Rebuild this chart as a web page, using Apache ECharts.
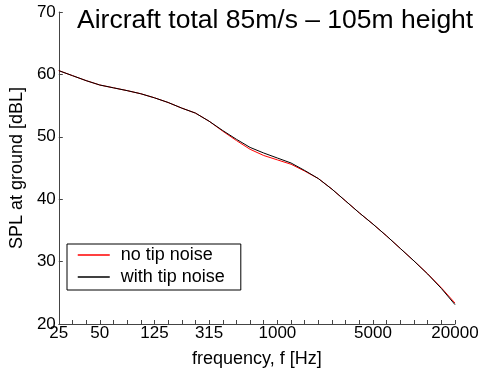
<!DOCTYPE html>
<html>
<head>
<meta charset="utf-8">
<script src="https://cdn.jsdelivr.net/npm/echarts@6/dist/echarts.min.js"></script>
<style>
  html, body { margin: 0; padding: 0; background: #fff; }
  #chart { width: 485px; height: 373px; }
</style>
</head>
<body>
<div id="chart"></div>
<script>
// One-third octave band centre frequencies [Hz]
const bands = ['25','31.5','40','50','63','80','100','125','160','200','250','315','400','500','630',
               '800','1000','1250','1600','2000','2500','3150','4000','5000','6300','8000','10000',
               '12500','16000','20000'];
// Bands that carry a tick label
const labelledBands = ['25','50','125','315','1000','5000','20000'];

// SPL at ground [dBL] per band
const noTipNoise = [60.6, 59.8, 59.0, 58.3, 57.85, 57.4, 56.9, 56.25, 55.5, 54.6, 53.8, 52.5, 50.9,
                    49.4, 48.0, 47.0, 46.3, 45.6, 44.5, 43.3, 41.6, 39.7, 37.8, 36.0, 34.1, 32.1,
                    30.1, 28.05, 25.8, 23.35];
const withTipNoise = [60.6, 59.8, 59.0, 58.3, 57.85, 57.4, 56.9, 56.25, 55.5, 54.6, 53.8, 52.5, 51.0,
                      49.6, 48.3, 47.4, 46.6, 45.8, 44.6, 43.3, 41.6, 39.7, 37.8, 36.0, 34.1, 32.1,
                      30.1, 28.0, 25.7, 23.1];

const seriesNames = ['no tip noise', 'with tip noise'];
const titleText = 'Aircraft total 85m/s \u2013 105m height';
const xName = 'frequency, f [Hz]';
const yName = 'SPL at ground [dBL]';

const font = 'Liberation Sans, Arial, Helvetica, sans-serif';
const chart = echarts.init(document.getElementById('chart'), null, { renderer: 'canvas' });

chart.setOption({
  animation: false,
  backgroundColor: '#ffffff',
  title: {
    text: titleText,
    left: 77,
    top: 7,
    padding: 0,
    textStyle: { fontFamily: font, fontSize: 26.5, fontWeight: 'normal', color: '#000' }
  },
  legend: {
    orient: 'vertical',
    left: 67,
    top: 244,
    padding: [2, 16, 4, 10],
    itemGap: 4,
    itemWidth: 32,
    itemHeight: 19,
    itemStyle: { opacity: 0 },
    lineStyle: { width: 1.5 },
    borderColor: '#000',
    borderWidth: 1,
    backgroundColor: '#fff',
    borderRadius: 0,
    data: seriesNames,
    textStyle: { fontFamily: font, fontSize: 18, color: '#000', padding: [0, 0, 0, 6] }
  },
  grid: { left: 55, right: 30, top: 12, bottom: 48, containLabel: false },
  xAxis: {
    type: 'category',
    data: bands,
    boundaryGap: false,
    name: xName,
    nameLocation: 'middle',
    nameGap: 26,
    nameTextStyle: { fontFamily: font, fontSize: 18, color: '#000' },
    axisLine: { lineStyle: { color: '#444', width: 1 } },
    axisTick: { inside: true, length: 4, interval: 0, lineStyle: { color: '#444' } },
    axisLabel: {
      interval: (i, v) => labelledBands.includes(v),
      margin: 1,
      fontFamily: font, fontSize: 17, color: '#000',
      showMinLabel: true, showMaxLabel: true
    },
    splitLine: { show: false }
  },
  yAxis: {
    type: 'value',
    min: 20,
    max: 70,
    interval: 10,
    name: yName,
    nameLocation: 'middle',
    nameGap: 25,
    nameRotate: 90,
    nameTextStyle: { fontFamily: font, fontSize: 18, color: '#000' },
    axisLine: { show: true, lineStyle: { color: '#444', width: 1 } },
    axisTick: { show: true, inside: true, length: 4, lineStyle: { color: '#444' } },
    axisLabel: { margin: 3, fontFamily: font, fontSize: 17, color: '#000' },
    splitLine: { show: false }
  },
  series: [
    {
      name: seriesNames[0],
      type: 'line',
      data: noTipNoise,
      symbol: 'none',
      lineStyle: { color: '#ff0000', width: 1 },
      itemStyle: { color: '#ff0000' },
      z: 2
    },
    {
      name: seriesNames[1],
      type: 'line',
      data: withTipNoise,
      symbol: 'none',
      lineStyle: { color: '#000000', width: 1 },
      itemStyle: { color: '#000000' },
      z: 3
    }
  ]
});
</script>
</body>
</html>
